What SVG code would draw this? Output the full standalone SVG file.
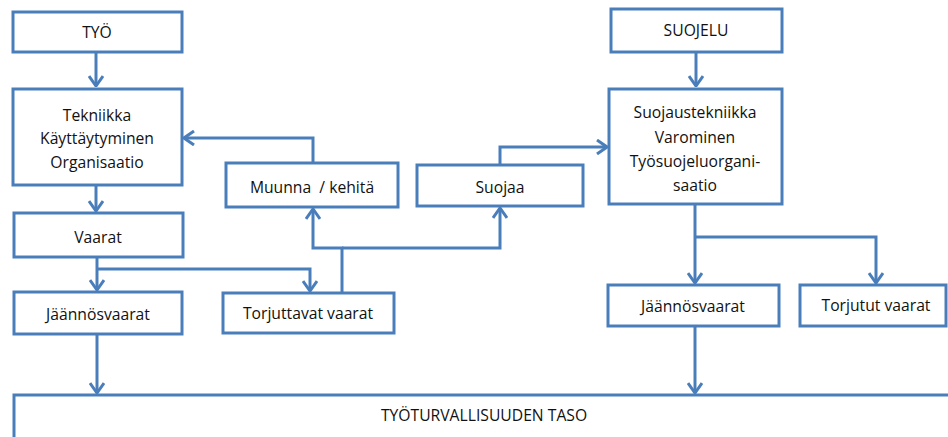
<svg xmlns="http://www.w3.org/2000/svg" width="948" height="437" viewBox="0 0 948 437">
<defs>
<style>
.box{fill:#fff;stroke:#4a7ebb;stroke-width:3}
.ln{fill:none;stroke:#4a7ebb;stroke-width:3}
.t{font-family:"Open Sans","Liberation Sans",sans-serif;font-size:15.7px;fill:#111;text-anchor:middle}
</style>
<marker id="ah" viewBox="0 0 12 16" refX="11" refY="8" markerWidth="12" markerHeight="16" markerUnits="userSpaceOnUse" orient="auto">
<path d="M1,1 L11,8 L1,15" fill="none" stroke="#4a7ebb" stroke-width="3"/>
</marker>
</defs>
<rect width="948" height="437" fill="#fff"/>
<g id="connectors">
<path class="ln" d="M96,52 V86" marker-end="url(#ah)"/>
<path class="ln" d="M313,163 V138 H184" marker-end="url(#ah)"/>
<path class="ln" d="M96,185 V211" marker-end="url(#ah)"/>
<path class="ln" d="M97,257 V290" marker-end="url(#ah)"/>
<path class="ln" d="M97,269 H310 V291" marker-end="url(#ah)"/>
<path class="ln" d="M342,293 V248 H313 V209" marker-end="url(#ah)"/>
<path class="ln" d="M342,248 H500 V208" marker-end="url(#ah)"/>
<path class="ln" d="M500,165 V147 H607" marker-end="url(#ah)"/>
<path class="ln" d="M696,52 V86" marker-end="url(#ah)"/>
<path class="ln" d="M695,204 V283" marker-end="url(#ah)"/>
<path class="ln" d="M695,237 H876 V283" marker-end="url(#ah)"/>
<path class="ln" d="M97,334 V393" marker-end="url(#ah)"/>
<path class="ln" d="M695,326 V393" marker-end="url(#ah)"/>
</g>
<g id="tyo"><rect class="box" x="13" y="12" width="169" height="40"/><text class="t" x="97" y="38">TYÖ</text></g>
<g id="suojelu"><rect class="box" x="611" y="9" width="171" height="43"/><text class="t" x="696" y="36">SUOJELU</text></g>
<g id="tekniikka"><rect class="box" x="13" y="89" width="169" height="96"/>
<text class="t" x="97" y="121">Tekniikka</text><text class="t" x="97" y="144">Käyttäytyminen</text><text class="t" x="97" y="168">Organisaatio</text></g>
<g id="suojaustekniikka"><rect class="box" x="609" y="89" width="173" height="115"/>
<text class="t" x="695" y="118">Suojaustekniikka</text><text class="t" x="695" y="143">Varominen</text><text class="t" x="695" y="167">Työsuojeluorgani-</text><text class="t" x="695" y="191">saatio</text></g>
<g id="muunna"><rect class="box" x="226" y="163" width="172" height="44"/><text class="t" x="312" y="193" xml:space="preserve">Muunna  / kehitä</text></g>
<g id="suojaa"><rect class="box" x="417" y="165" width="166" height="41"/><text class="t" x="500" y="193">Suojaa</text></g>
<g id="vaarat"><rect class="box" x="14" y="213" width="169" height="44"/><text class="t" x="98" y="243">Vaarat</text></g>
<g id="jaannos1"><rect class="box" x="14" y="292" width="168" height="42"/><text class="t" x="98" y="320">Jäännösvaarat</text></g>
<g id="torjuttavat"><rect class="box" x="223" y="293" width="171" height="40"/><text class="t" x="308" y="319">Torjuttavat vaarat</text></g>
<g id="jaannos2"><rect class="box" x="608" y="285" width="171" height="41"/><text class="t" x="693" y="312">Jäännösvaarat</text></g>
<g id="torjutut"><rect class="box" x="800" y="285" width="146" height="41"/><text class="t" x="876" y="311">Torjutut vaarat</text></g>
<g id="taso"><rect class="box" x="14" y="395" width="950" height="60"/><text class="t" x="484" y="421">TYÖTURVALLISUUDEN TASO</text></g>
</svg>
